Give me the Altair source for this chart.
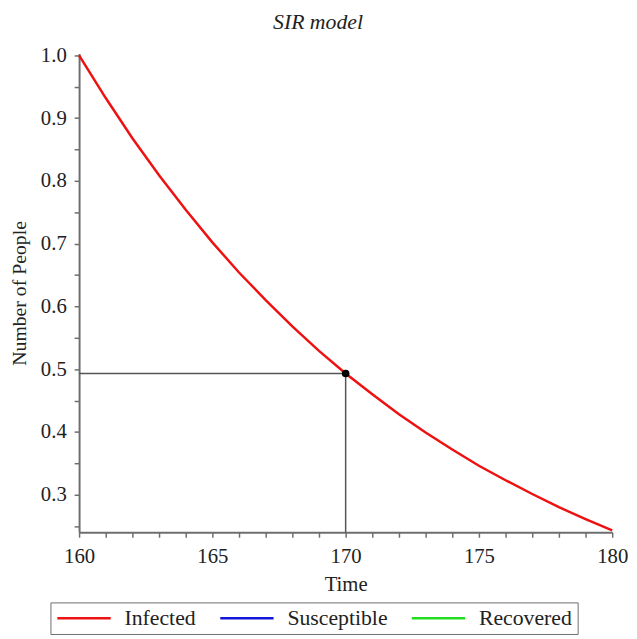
import altair as alt
import pandas as pd

# Data
time = [160, 161, 162, 163, 164, 165, 166, 167, 168, 169, 170,
        171, 172, 173, 174, 175, 176, 177, 178, 179, 180]
infected = [1.000, 0.932, 0.868, 0.809, 0.754, 0.702, 0.654, 0.610, 0.568, 0.529, 0.493,
            0.460, 0.428, 0.399, 0.372, 0.346, 0.323, 0.301, 0.280, 0.261, 0.243]
series_names = ["Infected", "Susceptible", "Recovered"]
series_colors = ["#ee1111", "#1515d8", "#22dd22"]
marker_t = [170]
marker_v = [0.493]
x_ticks = list(range(160, 181))
y_ticks = [0.25, 0.30, 0.35, 0.40, 0.45, 0.50, 0.55, 0.60, 0.65, 0.70, 0.75, 0.80, 0.85, 0.90, 0.95, 1.00]

df = pd.DataFrame({"Time": time, "value": infected, "series": ["Infected"] * len(time)})
mk = pd.DataFrame({"t": marker_t, "v": marker_v, "t0": [160], "v0": [0.24]})

FONT = "Liberation Serif"
GRAY = "#6e6e6e"
TXT = "#222222"

xscale = alt.Scale(domain=[160, 180], nice=False, zero=False)
yscale = alt.Scale(domain=[0.24, 1.003], nice=False, zero=False)

xaxis = alt.Axis(title="Time", values=x_ticks, tickCount=100,
                 labelExpr="datum.value % 5 == 0 ? format(datum.value, 'd') : ''",
                 labelOverlap=False,
                 grid=False, domainColor=GRAY, domainWidth=2, tickColor=GRAY, tickWidth=1.5,
                 tickSize=5, labelFont=FONT, labelFontSize=21, labelColor=TXT,
                 titleFont=FONT, titleFontSize=21, titleFontWeight="normal", titleColor=TXT,
                 labelPadding=9, titlePadding=7, labelFlush=False)
yaxis = alt.Axis(title="Number of People", values=y_ticks, tickCount=100,
                 labelExpr="abs(datum.value*10 - round(datum.value*10)) < 0.001 ? format(datum.value, '.1f') : ''",
                 labelOverlap=False,
                 grid=False, domainColor=GRAY, domainWidth=2, tickColor=GRAY, tickWidth=1.5,
                 tickSize=5, labelFont=FONT, labelFontSize=21, labelColor=TXT,
                 titleFont=FONT, titleFontSize=20, titleFontWeight="normal", titleColor=TXT,
                 labelPadding=8, titlePadding=11, labelFlush=False)

line = alt.Chart(df).mark_line(strokeWidth=2.5, clip=False).encode(
    x=alt.X("Time:Q", scale=xscale, axis=xaxis),
    y=alt.Y("value:Q", scale=yscale, axis=yaxis),
    color=alt.Color("series:N",
                    scale=alt.Scale(domain=series_names, range=series_colors),
                    legend=alt.Legend(title=None, orient="none", direction="horizontal",
                                      legendX=-29, legendY=556,
                                      symbolType="M-1,0H5", symbolSize=324, symbolStrokeWidth=2.5,
                                      labelFont=FONT, labelFontSize=22, labelColor=TXT,
                                      strokeColor=GRAY, padding=5, columnPadding=19,
                                      labelOffset=48, symbolOffset=0)),
)

hline = alt.Chart(mk).mark_rule(color="#555", strokeWidth=1.5).encode(
    x="t0:Q", x2="t:Q", y="v:Q")
vline = alt.Chart(mk).mark_rule(color="#555", strokeWidth=1.5).encode(
    x="t:Q", y="v0:Q", y2="v:Q")
pt = alt.Chart(mk).mark_point(filled=True, color="black", size=60, opacity=1).encode(
    x="t:Q", y="v:Q")

chart = alt.layer(hline, vline, line, pt).properties(
    width=540, height=485,
    title=alt.Title("SIR model", font=FONT, fontSize=22, fontStyle="italic",
                    fontWeight="normal", color=TXT, dx=-28, offset=11),
    autosize=alt.AutoSizeParams(type="none"),
    padding={"left": 72, "top": 42, "right": 17, "bottom": 104},
).configure_view(stroke=None)

chart.save("out.html", embed_options={"renderer": "svg", "actions": False})
